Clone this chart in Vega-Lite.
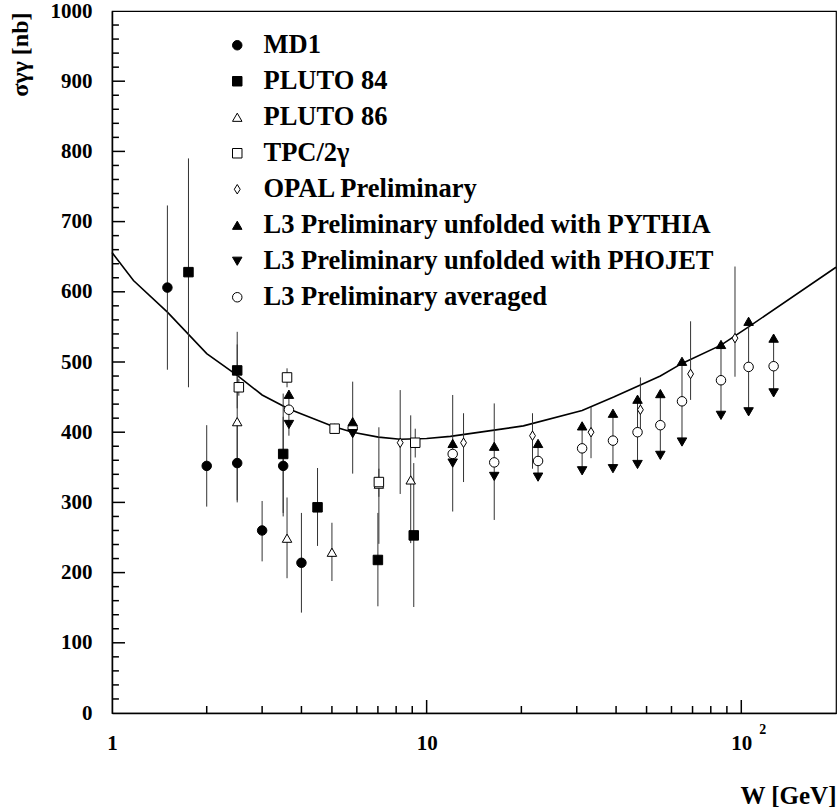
{
  "$schema": "https://vega.github.io/schema/vega-lite/v6.json",
  "width": 724,
  "height": 702,
  "autosize": {"type": "none"},
  "padding": {"left": 112, "top": 11, "right": 2, "bottom": 96},
  "background": "white",
  "config": {
    "view": {"stroke": "black", "strokeWidth": 1.2},
    "font": "Liberation Serif",
    "axis": {"labelFont": "Liberation Serif", "labelFontWeight": "bold", "labelColor": "black", "domainColor": "black", "grid": false, "titleFont": "Liberation Serif", "titleFontWeight": "bold", "titleColor": "black", "labelFlush": false, "labelOverlap": false}
  },
  "datasets": {
    "curve": [
      {"W": 1.0, "v": 656}, {"W": 1.17, "v": 616}, {"W": 1.5, "v": 571}, {"W": 2.0, "v": 512},
      {"W": 2.5, "v": 481}, {"W": 3.0, "v": 453}, {"W": 3.65, "v": 433}, {"W": 5.05, "v": 408},
      {"W": 5.82, "v": 400}, {"W": 7.03, "v": 393}, {"W": 8.24, "v": 390}, {"W": 10.0, "v": 391},
      {"W": 11.9, "v": 394}, {"W": 16.4, "v": 403}, {"W": 20.3, "v": 409}, {"W": 31.2, "v": 431},
      {"W": 39.3, "v": 450}, {"W": 47.6, "v": 467}, {"W": 55.3, "v": 480}, {"W": 64.8, "v": 498},
      {"W": 86.2, "v": 524}, {"W": 105.5, "v": 550}, {"W": 200, "v": 635}
    ],
    "ymajor": [{"t": 100}, {"t": 200}, {"t": 300}, {"t": 400}, {"t": 500}, {"t": 600}, {"t": 700}, {"t": 800}, {"t": 900}],
    "yminor": [{"t": 20}, {"t": 40}, {"t": 60}, {"t": 80}, {"t": 120}, {"t": 140}, {"t": 160}, {"t": 180}, {"t": 220}, {"t": 240}, {"t": 260}, {"t": 280}, {"t": 320}, {"t": 340}, {"t": 360}, {"t": 380}, {"t": 420}, {"t": 440}, {"t": 460}, {"t": 480}, {"t": 520}, {"t": 540}, {"t": 560}, {"t": 580}, {"t": 620}, {"t": 640}, {"t": 660}, {"t": 680}, {"t": 720}, {"t": 740}, {"t": 760}, {"t": 780}, {"t": 820}, {"t": 840}, {"t": 860}, {"t": 880}, {"t": 920}, {"t": 940}, {"t": 960}, {"t": 980}],
    "xmajor": [{"t": 10}, {"t": 100}],
    "xminor": [{"t": 2}, {"t": 3}, {"t": 4}, {"t": 5}, {"t": 6}, {"t": 7}, {"t": 8}, {"t": 9}, {"t": 20}, {"t": 30}, {"t": 40}, {"t": 50}, {"t": 60}, {"t": 70}, {"t": 80}, {"t": 90}],
    "pts": [
      {"s": "MD1", "W": 1.5, "v": 606, "lo": 489, "hi": 723},
      {"s": "MD1", "W": 2.0, "v": 352, "lo": 294, "hi": 410},
      {"s": "MD1", "W": 2.5, "v": 356, "lo": 300, "hi": 412},
      {"s": "MD1", "W": 3.0, "v": 260, "lo": 216, "hi": 302},
      {"s": "MD1", "W": 3.5, "v": 352, "lo": 280, "hi": 422},
      {"s": "MD1", "W": 4.0, "v": 214, "lo": 143, "hi": 285},
      {"s": "PLUTO 84", "W": 1.75, "v": 628, "lo": 464, "hi": 790},
      {"s": "PLUTO 84", "W": 2.5, "v": 488, "lo": 434, "hi": 543},
      {"s": "PLUTO 84", "W": 3.5, "v": 369, "lo": 285, "hi": 455},
      {"s": "PLUTO 84", "W": 4.5, "v": 293, "lo": 238, "hi": 349},
      {"s": "PLUTO 84", "W": 7.0, "v": 218, "lo": 152, "hi": 285},
      {"s": "PLUTO 84", "W": 9.1, "v": 253, "lo": 151, "hi": 356},
      {"s": "PLUTO 86", "W": 2.5, "v": 415, "lo": 303, "hi": 525},
      {"s": "PLUTO 86", "W": 3.6, "v": 249, "lo": 192, "hi": 307},
      {"s": "PLUTO 86", "W": 5.0, "v": 229, "lo": 188, "hi": 271},
      {"s": "PLUTO 86", "W": 7.05, "v": 326, "lo": 241, "hi": 407},
      {"s": "PLUTO 86", "W": 8.9, "v": 332, "lo": 242, "hi": 424},
      {"s": "TPC/2γ", "W": 2.53, "v": 464, "lo": 452, "hi": 476},
      {"s": "TPC/2γ", "W": 3.6, "v": 478, "lo": 464, "hi": 491},
      {"s": "TPC/2γ", "W": 5.1, "v": 405, "lo": 398, "hi": 412},
      {"s": "TPC/2γ", "W": 7.05, "v": 329, "lo": 308, "hi": 348},
      {"s": "TPC/2γ", "W": 9.2, "v": 385, "lo": 364, "hi": 405},
      {"s": "OPAL Preliminary", "W": 8.24, "v": 385, "lo": 312, "hi": 460},
      {"s": "OPAL Preliminary", "W": 13.1, "v": 385, "lo": 329, "hi": 427},
      {"s": "OPAL Preliminary", "W": 21.7, "v": 395, "lo": 348, "hi": 427},
      {"s": "OPAL Preliminary", "W": 33.3, "v": 400, "lo": 363, "hi": 436},
      {"s": "OPAL Preliminary", "W": 47.8, "v": 432, "lo": 398, "hi": 478},
      {"s": "OPAL Preliminary", "W": 69.0, "v": 483, "lo": 446, "hi": 558},
      {"s": "OPAL Preliminary", "W": 95.5, "v": 534, "lo": 479, "hi": 636},
      {"s": "L3 Preliminary averaged", "W": 3.65, "v": 432, "lo": 395, "hi": 460},
      {"s": "L3 Preliminary averaged", "W": 5.82, "v": 406, "lo": 341, "hi": 472},
      {"s": "L3 Preliminary averaged", "W": 12.1, "v": 369, "lo": 287, "hi": 453},
      {"s": "L3 Preliminary averaged", "W": 16.4, "v": 357, "lo": 275, "hi": 441},
      {"s": "L3 Preliminary averaged", "W": 22.6, "v": 359, "lo": 336, "hi": 384},
      {"s": "L3 Preliminary averaged", "W": 31.2, "v": 377, "lo": 345, "hi": 409},
      {"s": "L3 Preliminary averaged", "W": 39.1, "v": 388, "lo": 348, "hi": 427},
      {"s": "L3 Preliminary averaged", "W": 46.8, "v": 400, "lo": 354, "hi": 447},
      {"s": "L3 Preliminary averaged", "W": 55.3, "v": 410, "lo": 367, "hi": 455},
      {"s": "L3 Preliminary averaged", "W": 64.8, "v": 444, "lo": 386, "hi": 501},
      {"s": "L3 Preliminary averaged", "W": 86.2, "v": 474, "lo": 424, "hi": 525},
      {"s": "L3 Preliminary averaged", "W": 105.5, "v": 493, "lo": 429, "hi": 558},
      {"s": "L3 Preliminary averaged", "W": 126.7, "v": 494, "lo": 456, "hi": 534},
      {"s": "L3 Preliminary unfolded with PYTHIA", "W": 3.65, "v": 454},
      {"s": "L3 Preliminary unfolded with PYTHIA", "W": 5.82, "v": 415},
      {"s": "L3 Preliminary unfolded with PYTHIA", "W": 12.1, "v": 384},
      {"s": "L3 Preliminary unfolded with PYTHIA", "W": 16.4, "v": 380},
      {"s": "L3 Preliminary unfolded with PYTHIA", "W": 22.6, "v": 384},
      {"s": "L3 Preliminary unfolded with PYTHIA", "W": 31.2, "v": 409},
      {"s": "L3 Preliminary unfolded with PYTHIA", "W": 39.1, "v": 427},
      {"s": "L3 Preliminary unfolded with PYTHIA", "W": 46.8, "v": 447},
      {"s": "L3 Preliminary unfolded with PYTHIA", "W": 55.3, "v": 455},
      {"s": "L3 Preliminary unfolded with PYTHIA", "W": 64.8, "v": 501},
      {"s": "L3 Preliminary unfolded with PYTHIA", "W": 86.2, "v": 525},
      {"s": "L3 Preliminary unfolded with PYTHIA", "W": 105.5, "v": 558},
      {"s": "L3 Preliminary unfolded with PYTHIA", "W": 126.7, "v": 534},
      {"s": "L3 Preliminary unfolded with PHOJET", "W": 3.65, "v": 411},
      {"s": "L3 Preliminary unfolded with PHOJET", "W": 5.82, "v": 398},
      {"s": "L3 Preliminary unfolded with PHOJET", "W": 12.1, "v": 356},
      {"s": "L3 Preliminary unfolded with PHOJET", "W": 16.4, "v": 337},
      {"s": "L3 Preliminary unfolded with PHOJET", "W": 22.6, "v": 336},
      {"s": "L3 Preliminary unfolded with PHOJET", "W": 31.2, "v": 345},
      {"s": "L3 Preliminary unfolded with PHOJET", "W": 39.1, "v": 348},
      {"s": "L3 Preliminary unfolded with PHOJET", "W": 46.8, "v": 354},
      {"s": "L3 Preliminary unfolded with PHOJET", "W": 55.3, "v": 367},
      {"s": "L3 Preliminary unfolded with PHOJET", "W": 64.8, "v": 386},
      {"s": "L3 Preliminary unfolded with PHOJET", "W": 86.2, "v": 424},
      {"s": "L3 Preliminary unfolded with PHOJET", "W": 105.5, "v": 429},
      {"s": "L3 Preliminary unfolded with PHOJET", "W": 126.7, "v": 456}
    ]
  },
  "resolve": {"axis": {"x": "independent", "y": "independent"}},
  "layer": [
    {
      "data": {"name": "curve"},
      "mark": {"type": "line", "color": "black", "strokeWidth": 1.6},
      "encoding": {
        "x": {"field": "W", "type": "quantitative", "scale": {"type": "log", "domain": [1, 200], "nice": false},
          "axis": {"orient": "bottom", "values": [1, 10, 100], "ticks": false, "labelPadding": 19, "labelFontSize": 21, "labelExpr": "datum.value == 1 ? '1' : '10'", "domainWidth": 1.5, "title": "W [GeV]", "titleFontSize": 25, "titleAlign": "right", "titleX": 724, "titleY": 90, "titleBaseline": "alphabetic"}},
        "y": {"field": "v", "type": "quantitative", "scale": {"domain": [0, 1000], "nice": false, "zero": false},
          "axis": {"orient": "left", "values": [0, 100, 200, 300, 400, 500, 600, 700, 800, 900, 1000], "format": "d", "ticks": false, "labelPadding": 20, "labelFontSize": 21, "labelBaseline": "middle", "domainWidth": 1.5, "title": "σγγ [nb]", "titleFontSize": 24, "titleAngle": 270, "titleX": -92, "titleY": 1, "titleAlign": "right", "titleBaseline": "middle"}}
      }
    },
    {
      "data": {"name": "curve"},
      "mark": {"type": "point", "opacity": 0},
      "encoding": {
        "x": {"field": "W", "type": "quantitative", "scale": {"type": "log", "domain": [1, 200], "nice": false},
          "axis": {"orient": "bottom", "values": [100], "ticks": false, "domain": false, "labelExpr": "'2'", "labelFontSize": 14, "labelOffset": 21, "labelPadding": 9, "title": null}},
        "y": {"field": "v", "type": "quantitative", "scale": {"domain": [0, 1000], "nice": false, "zero": false}, "axis": null}
      }
    },
    {
      "data": {"name": "pts"},
      "transform": [{"filter": "datum.lo != null"}],
      "mark": {"type": "rule", "color": "#333333", "strokeWidth": 1},
      "encoding": {
        "x": {"field": "W", "type": "quantitative", "axis": null},
        "y": {"field": "lo", "type": "quantitative", "axis": null},
        "y2": {"field": "hi"}
      }
    },
    {
      "data": {"name": "pts"},
      "mark": {"type": "point", "opacity": 1, "strokeWidth": 1, "size": 90},
      "encoding": {
        "x": {"field": "W", "type": "quantitative", "axis": null},
        "y": {"field": "v", "type": "quantitative", "axis": null},
        "shape": {"field": "s", "type": "nominal",
          "scale": {"domain": ["MD1", "PLUTO 84", "PLUTO 86", "TPC/2γ", "OPAL Preliminary", "L3 Preliminary unfolded with PYTHIA", "L3 Preliminary unfolded with PHOJET", "L3 Preliminary averaged"],
            "range": ["circle", "square", "triangle-up", "square", "M0,-1L0.62,0L0,1L-0.62,0Z", "triangle-up", "triangle-down", "circle"]},
          "legend": {"orient": "none", "legendX": 112, "legendY": 21, "title": null, "labelFont": "Liberation Serif", "labelFontSize": 26.5, "labelFontWeight": "bold", "labelColor": "black", "labelLimit": 700, "labelOffset": 13, "rowPadding": 9, "symbolStrokeWidth": 1, "symbolSize": 90, "padding": 0}},
        "fill": {"field": "s", "type": "nominal",
          "scale": {"domain": ["MD1", "PLUTO 84", "PLUTO 86", "TPC/2γ", "OPAL Preliminary", "L3 Preliminary unfolded with PYTHIA", "L3 Preliminary unfolded with PHOJET", "L3 Preliminary averaged"],
            "range": ["black", "black", "white", "white", "white", "black", "black", "white"]},
          "legend": {"orient": "none", "legendX": 112, "legendY": 21, "title": null, "labelFont": "Liberation Serif", "labelFontSize": 26.5, "labelFontWeight": "bold", "labelColor": "black", "labelLimit": 700, "labelOffset": 13, "rowPadding": 9, "symbolStrokeWidth": 1, "symbolSize": 90, "padding": 0}},
        "stroke": {"field": "s", "type": "nominal",
          "scale": {"domain": ["MD1", "PLUTO 84", "PLUTO 86", "TPC/2γ", "OPAL Preliminary", "L3 Preliminary unfolded with PYTHIA", "L3 Preliminary unfolded with PHOJET", "L3 Preliminary averaged"],
            "range": ["black", "black", "black", "black", "black", "black", "black", "black"]},
          "legend": {"orient": "none", "legendX": 112, "legendY": 21, "title": null, "labelFont": "Liberation Serif", "labelFontSize": 26.5, "labelFontWeight": "bold", "labelColor": "black", "labelLimit": 700, "labelOffset": 13, "rowPadding": 9, "symbolStrokeWidth": 1, "symbolSize": 90, "padding": 0}}
      }
    },
    {
      "data": {"name": "ymajor"},
      "mark": {"type": "rule", "color": "black", "strokeWidth": 1.5, "opacity": 1},
      "encoding": {
        "y": {"field": "t", "type": "quantitative", "axis": null},
        "x": {"datum": 1, "type": "quantitative", "axis": null},
        "x2": {"datum": 1.1}
      }
    },
    {
      "data": {"name": "yminor"},
      "mark": {"type": "rule", "color": "black", "strokeWidth": 1.5, "opacity": 1},
      "encoding": {
        "y": {"field": "t", "type": "quantitative", "axis": null},
        "x": {"datum": 1, "type": "quantitative", "axis": null},
        "x2": {"datum": 1.052}
      }
    },
    {
      "data": {"name": "xmajor"},
      "mark": {"type": "rule", "color": "black", "strokeWidth": 1.5, "opacity": 1},
      "encoding": {
        "x": {"field": "t", "type": "quantitative", "axis": null},
        "y": {"datum": 0, "type": "quantitative", "axis": null},
        "y2": {"datum": 18.5}
      }
    },
    {
      "data": {"name": "xminor"},
      "mark": {"type": "rule", "color": "black", "strokeWidth": 1.5, "opacity": 1},
      "encoding": {
        "x": {"field": "t", "type": "quantitative", "axis": null},
        "y": {"datum": 0, "type": "quantitative", "axis": null},
        "y2": {"datum": 10}
      }
    }
  ]
}
